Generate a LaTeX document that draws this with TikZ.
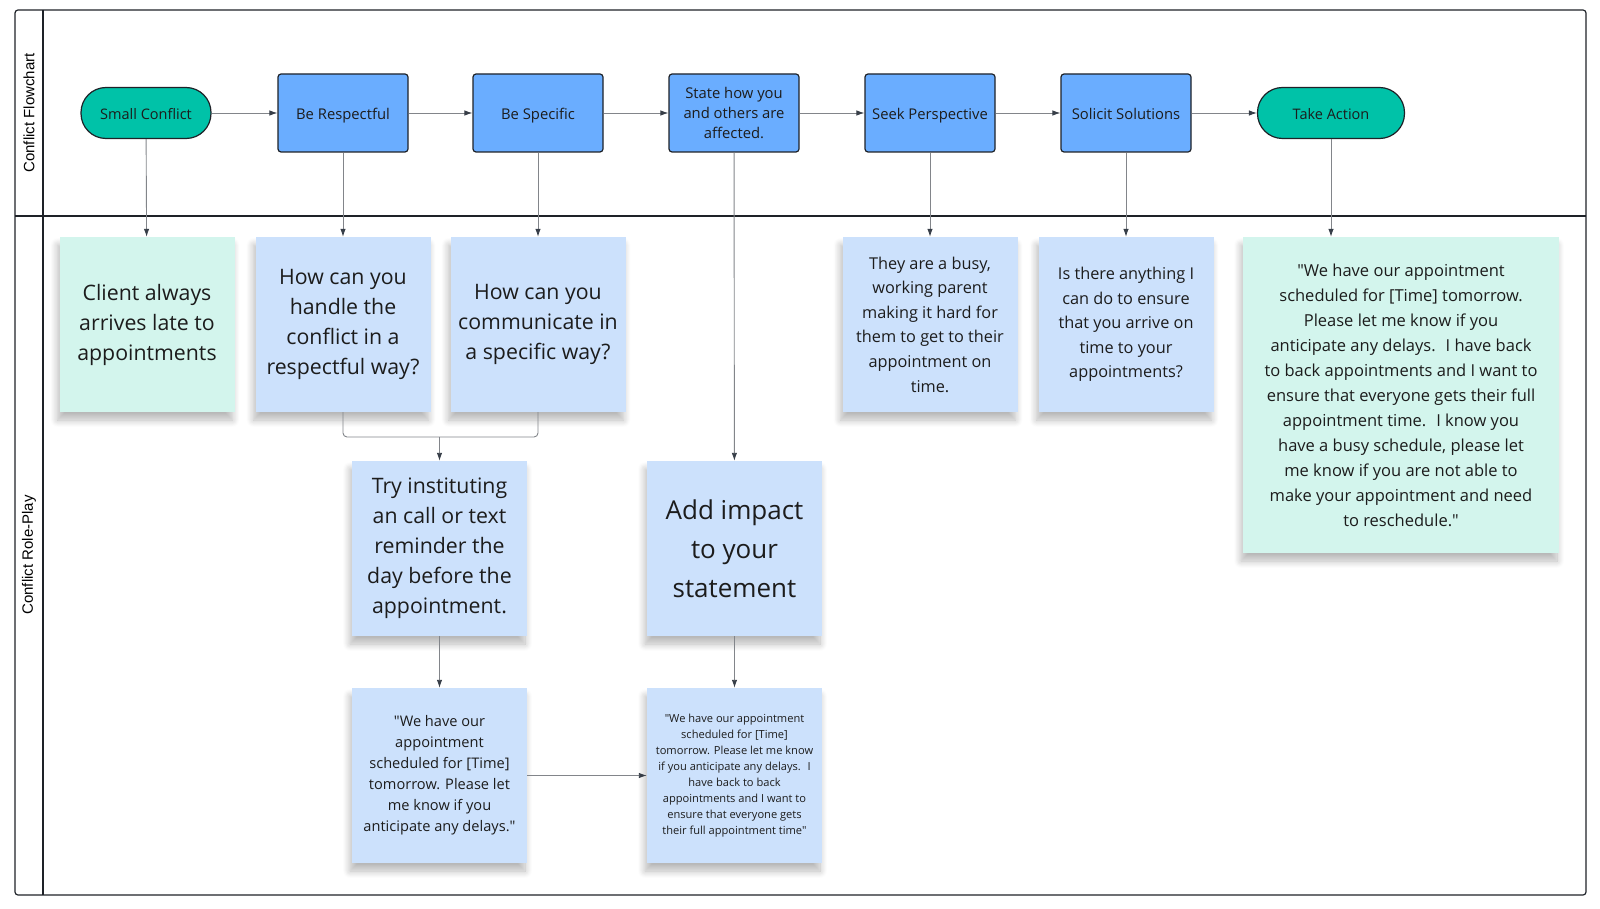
\documentclass[tikz,border=0pt]{standalone}
\usepackage{fontspec}
\setmainfont{Open Sans}
\newfontfamily\plainopen{Open Sans}
\newfontfamily\lanefont{Liberation Sans}
\usetikzlibrary{arrows.meta,shadows.blur}

\definecolor{termfill}{RGB}{0,194,168}
\definecolor{procfill}{RGB}{106,173,255}
\definecolor{noteblue}{RGB}{204,225,252}
\definecolor{noteteal}{RGB}{211,245,237}
\definecolor{edgec}{RGB}{30,34,40}
\definecolor{textc}{RGB}{28,28,28}
\definecolor{connc}{RGB}{130,133,138}
\definecolor{tipc}{RGB}{55,62,72}

\newcommand{\qm}{{\plainopen\symbol{34}}}

\tikzset{
  term/.style={draw=edgec, line width=1.2pt, fill=termfill, rounded corners=25pt,
    minimum width=130pt, minimum height=51pt, text=textc, font=\fontsize{14.5}{20}\selectfont,
    text height=14pt, text depth=0.5pt},
  proc/.style={draw=edgec, line width=1.2pt, fill=procfill, rounded corners=3pt,
    minimum width=130pt, minimum height=78pt, align=center, text=textc,
    font=\fontsize{14.8}{20.4}\selectfont},
  oneline/.style={text height=14pt, text depth=0.5pt},
  note/.style={fill=noteblue, minimum width=175pt, minimum height=175pt, align=center,
    text=textc, blur shadow={shadow xshift=-2pt, shadow yshift=-8pt, shadow blur radius=7pt,
    shadow blur steps=10, shadow opacity=28}},
  conn/.style={draw=connc, line width=0.9pt, -{Latex[length=8pt,width=5.5pt,color=tipc]}},
  lane/.style={text=black, rotate=90, font=\lanefont\fontsize{15}{17}\selectfont},
}

\begin{document}
\begin{tikzpicture}[x=1pt,y=-1pt]
  \useasboundingbox (0,0) rectangle (1600,909);

  % swimlanes
  \draw [edgec, line width=1.2pt, rounded corners=3pt] (15,10) rectangle (1586,895);
  \draw [edgec, line width=1.2pt] (43,10) -- (43,895);
  \draw [edgec, line width=1.2pt] (15,216) -- (1586,216);
  \node [lane] (lflow) at (29,113) {Conflict Flowchart};
  \node [lane] (lrole) at (29,555) {Conflict Role-Play};

  % flowchart row
  \node [term] (sc) at (146,113) {Small Conflict};
  \node [proc, oneline] (br) at (343,113) {Be Respectful};
  \node [proc, oneline] (bs) at (538,113) {Be Specific};
  \node [proc] (st) at (734,113) {State how you\\and others are\\affected.};
  \node [proc, oneline] (sp) at (930,113) {Seek Perspective};
  \node [proc, oneline] (ss) at (1126,113) {Solicit Solutions};
  \node [term, minimum width=147pt] (ta) at (1331,113) {Take Action};

  \draw [conn] (sc) -- (br);
  \draw [conn] (br) -- (bs);
  \draw [conn] (bs) -- (st);
  \draw [conn] (st) -- (sp);
  \draw [conn] (sp) -- (ss);
  \draw [conn] (ss) -- (ta);

  % role-play notes
  \node [note, fill=noteteal, font=\fontsize{21.3}{30}\selectfont] (client) at (147,324.5)
    {Client always\\arrives late to\\appointments};
  \node [note, font=\fontsize{21.3}{30}\selectfont] (howresp) at (343,324.5)
    {How can you\\handle the\\conflict in a\\respectful way?};
  \node [note, font=\fontsize{21.3}{30}\selectfont] (howspec) at (538,324.5)
    {How can you\\communicate in\\a specific way?};
  \node [note, font=\fontsize{16.3}{24.6}\selectfont] (busy) at (930,324.5)
    {They are a busy,\\working parent\\making it hard for\\them to get to their\\appointment on\\time.};
  \node [note, font=\fontsize{16.3}{24.6}\selectfont] (ensure) at (1126,324.5)
    {Is there anything I\\can do to ensure\\that you arrive on\\time to your\\appointments?};
  \node [note, fill=noteteal, minimum width=316pt, minimum height=316pt,
    font=\fontsize{16.5}{25}\selectfont] (final) at (1401,395)
    {\qm We have our appointment\\scheduled for [Time] tomorrow.\\Please let me know if you\\anticipate any delays.~ I have back\\to back appointments and I want to\\ensure that everyone gets their full\\appointment time.~ I know you\\have a busy schedule, please let\\me know if you are not able to\\make your appointment and need\\to reschedule.\qm};
  \node [note, font=\fontsize{21.3}{30}\selectfont] (remind) at (439.5,548.5)
    {Try instituting\\an call or text\\reminder the\\day before the\\appointment.};
  \node [note, font=\fontsize{26}{38.8}\selectfont] (impact) at (734.5,548.5)
    {Add impact\\to your\\statement};
  \node [note, font=\fontsize{14.6}{21}\selectfont] (quote1) at (439.5,775.5)
    {\qm We have our\\appointment\\scheduled for [Time]\\tomorrow. Please let\\me know if you\\anticipate any delays.\qm};
  \node [note, font=\fontsize{11.1}{16}\selectfont] (quote2) at (734.5,775.5)
    {\qm We have our appointment\\scheduled for [Time]\\tomorrow. Please let me know\\if you anticipate any delays.~ I\\have back to back\\appointments and I want to\\ensure that everyone gets\\their full appointment time\qm};

  \draw [conn] (sc) -- (client);
  \draw [conn] (br) -- (howresp);
  \draw [conn] (bs) -- (howspec);
  \draw [conn] (st) -- (impact);
  \draw [conn] (sp) -- (busy);
  \draw [conn] (ss) -- (ensure);
  \draw [conn] (ta.south) -- (ta.south |- final.north);

  \coordinate (join) at (439.5,437);
  \draw [conn, -, rounded corners=4pt] (howresp.south) |- (join) -| (howspec.south);
  \draw [conn] (join) -- (remind);
  \draw [conn] (remind) -- (quote1);
  \draw [conn] (impact) -- (quote2);
  \draw [conn] (quote1) -- (quote2);
\end{tikzpicture}
\end{document}
